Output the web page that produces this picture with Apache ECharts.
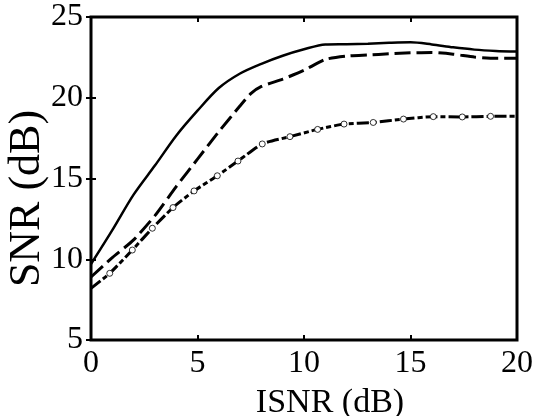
<!DOCTYPE html>
<html><head><meta charset="utf-8">
<script src="https://cdn.jsdelivr.net/npm/echarts@6/dist/echarts.min.js"></script>
<style>html,body{margin:0;padding:0;background:#fff}#c{width:545px;height:416px}</style>
</head><body><div id="c"></div>
<script>
const xTickValues = [0, 5, 10, 15, 20];
const yTickValues = [5, 10, 15, 20, 25];
const xAxisTitle = 'ISNR (dB)';
const yAxisTitle = 'SNR (dB)';

const solidX = [0, 1, 2, 3, 4, 5, 6, 7, 8, 9, 10, 11, 12, 13, 14, 15, 16, 17, 18, 19, 20];
const solidY = [9.7, 11.8, 14.0, 15.8, 17.65, 19.2, 20.6, 21.5, 22.1, 22.6, 23.0, 23.3, 23.32, 23.35, 23.4, 23.43, 23.3, 23.12, 22.98, 22.9, 22.86];

const dashedX = [0, 1, 2, 3, 4, 5, 6, 7, 7.5, 8, 9, 10, 11, 12, 13, 14, 15, 16, 17, 18, 19, 20];
const dashedY = [8.9, 10.1, 11.2, 12.7, 14.5, 16.2, 17.9, 19.5, 20.25, 20.7, 21.15, 21.7, 22.37, 22.58, 22.65, 22.72, 22.78, 22.8, 22.7, 22.52, 22.44, 22.44];

const circleX = [0.88, 1.94, 2.88, 3.85, 4.84, 5.93, 6.9, 8.04, 9.34, 10.64, 11.88, 13.25, 14.67, 16.07, 17.43, 18.76];
const circleY = [9.13, 10.57, 11.92, 13.2, 14.23, 15.17, 16.08, 17.14, 17.59, 18.04, 18.37, 18.47, 18.68, 18.83, 18.81, 18.85];
const circleLineStart = [0, 8.2];
const circleLineEnd = [20, 18.85];

const FONT = "'Liberation Serif','DejaVu Serif',serif";

const pairs = (xs, ys) => xs.map((x, i) => [x, ys[i]]);
const circleLine = [{value: circleLineStart, symbol: 'none'}]
  .concat(pairs(circleX, circleY).map(p => ({value: p})))
  .concat([{value: circleLineEnd, symbol: 'none'}]);

const tickStyle = {show: true, inside: true, length: 5, lineStyle: {color: '#000', width: 2}};

const chart = echarts.init(document.getElementById('c'), null, {renderer: 'canvas'});
chart.setOption({
  backgroundColor: '#fff',
  animation: false,
  grid: {left: 91, right: 28, top: 17, bottom: 76, containLabel: false, outerBoundsMode: 'none',
         show: true, borderColor: '#000', borderWidth: 3, backgroundColor: 'transparent'},
  xAxis: [{
    type: 'value', min: xTickValues[0], max: xTickValues[xTickValues.length - 1], interval: 5,
    axisLine: {show: false}, axisTick: tickStyle, splitLine: {show: false},
    axisLabel: {fontSize: 32, color: '#000', fontFamily: FONT, margin: 8},
    name: xAxisTitle, nameLocation: 'middle', nameGap: 46,
    nameTextStyle: {fontSize: 34, color: '#000', fontFamily: FONT, padding: [0, 0, 0, 52]}
  }, {
    type: 'value', position: 'top', min: xTickValues[0], max: xTickValues[xTickValues.length - 1], interval: 5,
    axisLine: {show: false}, axisTick: tickStyle, splitLine: {show: false}, axisLabel: {show: false}
  }],
  yAxis: [{
    type: 'value', min: yTickValues[0], max: yTickValues[yTickValues.length - 1], interval: 5,
    axisLine: {show: false}, axisTick: tickStyle, splitLine: {show: false},
    axisLabel: {fontSize: 32, color: '#000', fontFamily: FONT, margin: 8},
    name: yAxisTitle, nameLocation: 'middle', nameGap: 42, nameRotate: 90, nameMoveOverlap: false,
    nameTextStyle: {fontSize: 44, color: '#000', fontFamily: FONT, padding: [0, 40, 0, 0]}
  }, {
    type: 'value', position: 'right', min: yTickValues[0], max: yTickValues[yTickValues.length - 1], interval: 5,
    axisLine: {show: false}, axisTick: tickStyle, splitLine: {show: false}, axisLabel: {show: false}
  }],
  series: [{
    type: 'line', data: pairs(solidX, solidY), smooth: 0.3, showSymbol: false,
    lineStyle: {color: '#000', width: 2.5, type: 'solid'}, z: 3
  }, {
    type: 'line', data: pairs(dashedX, dashedY), smooth: 0.2, showSymbol: false,
    lineStyle: {color: '#000', width: 3, type: [16, 6]}, z: 3
  }, {
    type: 'line', data: circleLine, smooth: 0.2, showSymbol: true,
    symbol: 'circle', symbolSize: 6,
    itemStyle: {color: '#fff', borderColor: '#000', borderWidth: 0.8},
    lineStyle: {color: '#000', width: 3, type: [12, 3, 5, 3]}, z: 3
  }]
});
</script>
</body></html>
